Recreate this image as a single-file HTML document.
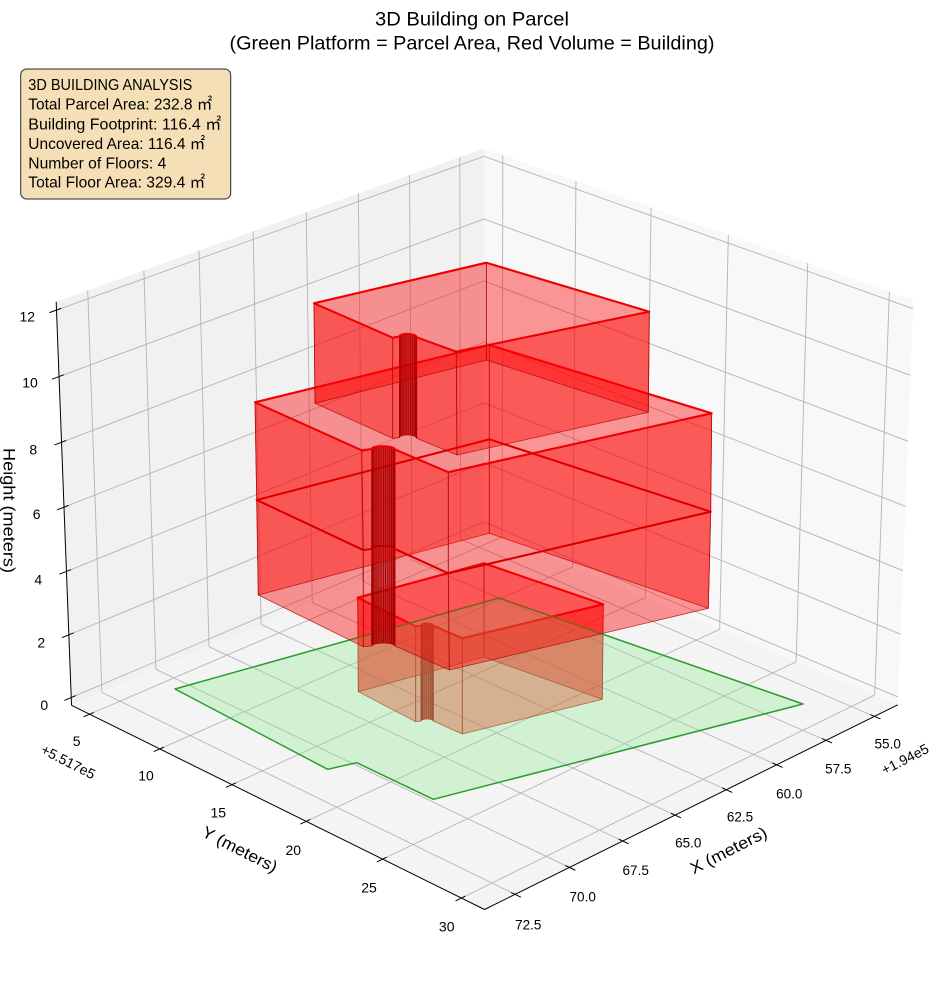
<!DOCTYPE html>
<html>
<head>
<meta charset="utf-8">
<style>
html,body{margin:0;padding:0;background:#fff;}
svg{display:block;}
text{font-family:"Liberation Sans","Noto Sans CJK JP",sans-serif;fill:#000;}
</style>
</head>
<body>
<svg id="s" width="944" height="992" viewBox="0 0 944 992" xmlns="http://www.w3.org/2000/svg">
<rect x="0" y="0" width="944" height="992" fill="#ffffff"/>
<g id="panes"></g>
<g id="grid" stroke="#b4b4b4" stroke-width="0.9" fill="none"></g>
<g id="axes" stroke="#000" stroke-width="1" fill="none" stroke-linecap="butt"></g>
<g id="b1"></g>
<g id="parcel">
<polygon points="175,689 499,598 803,704 433.3,799.3 356.7,762.7 327.7,769.3" fill="#90ee90" fill-opacity="0.33" stroke="#2a9d2a" stroke-width="1.5" stroke-linejoin="round"/>
</g>
<g id="b2"></g>

<!-- Title -->
<text x="472" y="25.5" font-size="19.5" text-anchor="middle" textLength="194" lengthAdjust="spacingAndGlyphs">3D Building on Parcel</text>
<text x="472" y="49.5" font-size="19.5" text-anchor="middle" textLength="485" lengthAdjust="spacingAndGlyphs">(Green Platform = Parcel Area, Red Volume = Building)</text>

<!-- Info box -->
<rect x="20.7" y="69" width="210" height="130" rx="6" ry="6" fill="#f5dfb6" stroke="#2a2a2a" stroke-width="1"/>
<g font-size="16">
<text x="28.3" y="90" textLength="164" lengthAdjust="spacingAndGlyphs">3D BUILDING ANALYSIS</text>
<text x="28.3" y="109.7" textLength="184" lengthAdjust="spacingAndGlyphs">Total Parcel Area: 232.8 ㎡</text>
<text x="28.3" y="129.3" textLength="193" lengthAdjust="spacingAndGlyphs">Building Footprint: 116.4 ㎡</text>
<text x="28.3" y="149" textLength="177" lengthAdjust="spacingAndGlyphs">Uncovered Area: 116.4 ㎡</text>
<text x="28.3" y="168.3" textLength="138" lengthAdjust="spacingAndGlyphs">Number of Floors: 4</text>
<text x="28.3" y="187.7" textLength="177" lengthAdjust="spacingAndGlyphs">Total Floor Area: 329.4 ㎡</text>
</g>

<!-- Z tick labels -->
<g font-size="14" text-anchor="middle">
<text x="27.3" y="321.7">12</text>
<text x="30" y="387.7">10</text>
<text x="33.3" y="454.3">8</text>
<text x="36.7" y="519">6</text>
<text x="38.3" y="584.3">4</text>
<text x="41.3" y="647.7">2</text>
<text x="44.3" y="710">0</text>
</g>
<!-- Y tick labels -->
<g font-size="14" text-anchor="middle">
<text x="76.7" y="746">5</text>
<text x="146" y="780.7">10</text>
<text x="218.3" y="817.7">15</text>
<text x="293.3" y="855">20</text>
<text x="369" y="892.7">25</text>
<text x="446.7" y="931.7">30</text>
</g>
<!-- X tick labels -->
<g font-size="13.5" text-anchor="middle">
<text x="528.3" y="929.3">72.5</text>
<text x="582.7" y="901.7">70.0</text>
<text x="635.7" y="875">67.5</text>
<text x="688.3" y="847.7">65.0</text>
<text x="740" y="821.7">62.5</text>
<text x="789.3" y="798.3">60.0</text>
<text x="838.3" y="773.3">57.5</text>
<text x="887.7" y="748.3">55.0</text>
</g>
<!-- Offsets and axis labels -->
<text font-size="14" text-anchor="middle" transform="translate(68.3,761.7) rotate(27)" y="5">+5.517e5</text>
<text font-size="14" text-anchor="middle" transform="translate(905,759) rotate(-27)" y="5">+1.94e5</text>
<text font-size="16.5" text-anchor="middle" transform="translate(240,849) rotate(27)" y="6" textLength="82" lengthAdjust="spacingAndGlyphs">Y (meters)</text>
<text font-size="16.5" text-anchor="middle" transform="translate(728.3,850) rotate(-27)" y="6" textLength="84" lengthAdjust="spacingAndGlyphs">X (meters)</text>
<text font-size="16.5" text-anchor="middle" transform="translate(3.5,510.5) rotate(90)" textLength="125" lengthAdjust="spacingAndGlyphs">Height (meters)</text>
</svg>

<script>
(function(){
var NS="http://www.w3.org/2000/svg";
function el(par,tag,at){var e=document.createElementNS(NS,tag);for(var k in at)e.setAttribute(k,at[k]);par.appendChild(e);return e;}
function pstr(a){return a.map(function(q){return q[0].toFixed(2)+','+q[1].toFixed(2);}).join(' ');}
function solve(A,b){
  var n=A.length,i,r,c;
  for(i=0;i<n;i++){
    var p=i;for(r=i+1;r<n;r++)if(Math.abs(A[r][i])>Math.abs(A[p][i]))p=r;
    var t=A[i];A[i]=A[p];A[p]=t;var tb=b[i];b[i]=b[p];b[p]=tb;
    for(r=i+1;r<n;r++){var f=A[r][i]/A[i][i];for(c=i;c<n;c++)A[r][c]-=f*A[i][c];b[r]-=f*b[i];}
  }
  var x=new Array(n).fill(0);
  for(i=n-1;i>=0;i--){var s=b[i];for(c=i+1;c<n;c++)s-=A[i][c]*x[c];x[i]=s/A[i][i];}
  return x;
}
var wz=function(z){return (z+0.25)/12.5;};
var pts=[];
[[1,0,0,71.5,705],[1,1,0,484.5,909.5],[0,1,0,897.8,704.8],[1,0,1,56.2,301.7],[0,1,1,913.3,300],[0,0,1,484,148.3]].forEach(function(p){pts.push([p[0],p[1],p[2],p[3],p[4],4]);});
[[0,698.3],[2,635],[4,572],[6,507],[8,443],[10,376],[12,310]].forEach(function(a){var y=a[1];var x=71.5-(71.5-56.2)*(705-y)/(705-301.7);pts.push([1,0,wz(a[0]),x,y,1]);});
pts.push([0,0,wz(12),484,156.7,2]);
pts.push([0,1,wz(12),913.1,309.3,2]);
var cx=480,cy=500,sc=500;
var N=[],c=[],i,j;
for(i=0;i<11;i++){N.push(new Array(11).fill(0));c.push(0);}
pts.forEach(function(q){
  var X=q[0],Y=q[1],Z=q[2],w=q[5];
  var x=(q[3]-cx)/sc,y=(q[4]-cy)/sc;
  var r1=[X,Y,Z,1,0,0,0,0,-x*X,-x*Y,-x*Z],r2=[0,0,0,0,X,Y,Z,1,-y*X,-y*Y,-y*Z];
  [[r1,x],[r2,y]].forEach(function(rb){var r=rb[0],b=rb[1];for(var i=0;i<11;i++){c[i]+=w*r[i]*b;for(var j=0;j<11;j++)N[i][j]+=w*r[i]*r[j];}});
});
var p=solve(N,c);
function P(X,Y,Z){var d=p[8]*X+p[9]*Y+p[10]*Z+1;return [cx+sc*(p[0]*X+p[1]*Y+p[2]*Z+p[3])/d, cy+sc*(p[4]*X+p[5]*Y+p[6]*Z+p[7])/d];}
function findParam(f,px,py){var best=0,bd=1e18;for(var i=0;i<=2000;i++){var t=i/2000;var q=f(t);var d=(q[0]-px)*(q[0]-px)+(q[1]-py)*(q[1]-py);if(d<bd){bd=d;best=t;}}return best;}
function linfit(xs,ys){var n=xs.length,mx=0,my=0,k;for(k=0;k<n;k++){mx+=xs[k];my+=ys[k];}mx/=n;my/=n;var sxy=0,sxx=0;for(k=0;k<n;k++){sxy+=(xs[k]-mx)*(ys[k]-my);sxx+=(xs[k]-mx)*(xs[k]-mx);}var a=sxy/sxx;return [a,my-a*mx];}
var xt=[[72.5,516.7,897.3],[70,570,870],[67.5,623.3,843.3],[65,676.7,817.7],[62.5,728.3,791.7],[60,778.3,766.7],[57.5,827.3,742.7],[55,875,719]];
var us=xt.map(function(a){return findParam(function(t){return P(t,1,0);},a[1],a[2]);});
var fx=linfit(xt.map(function(a){return a[0];}),us);
var U=function(X){return fx[0]*X+fx[1];};
var yt=[[5,88.3,715.7],[10,160,750.7],[15,230,787.3],[20,305,824],[25,381.7,861.7],[30,460,900]];
var vs=yt.map(function(a){return findParam(function(t){return P(1,t,0);},a[1],a[2]);});
var fy=linfit(yt.map(function(a){return a[0];}),vs);
var V=function(Y){return fy[0]*Y+fy[1];};

var panes=document.getElementById('panes');
el(panes,'polygon',{points:pstr([P(1,0,0),P(0,0,0),P(0,0,1),P(1,0,1)]),fill:'#f1f1f1'});
el(panes,'polygon',{points:pstr([P(0,1,0),P(0,0,0),P(0,0,1),P(0,1,1)]),fill:'#f8f8f8'});
el(panes,'polygon',{points:pstr([P(1,0,0),P(1,1,0),P(0,1,0),P(0,0,0)]),fill:'#f4f4f4'});

var grid=document.getElementById('grid');
function ln(g,a,b,extra){var at={x1:a[0].toFixed(2),y1:a[1].toFixed(2),x2:b[0].toFixed(2),y2:b[1].toFixed(2)};if(extra)for(var k in extra)at[k]=extra[k];return el(g,'line',at);}
var xticks=[55,57.5,60,62.5,65,67.5,70,72.5],yticks=[5,10,15,20,25,30],zticks=[0,2,4,6,8,10,12];
xticks.forEach(function(x){var u=U(x);ln(grid,P(u,0,0),P(u,1,0));ln(grid,P(u,0,0),P(u,0,1));});
yticks.forEach(function(y){var v=V(y);ln(grid,P(0,v,0),P(1,v,0));ln(grid,P(0,v,0),P(0,v,1));});
zticks.forEach(function(z){var w=wz(z);ln(grid,P(0,0,w),P(1,0,w));ln(grid,P(0,0,w),P(0,1,w));});

var axes=document.getElementById('axes');
ln(axes,P(1,0,0),P(1,0,1));
ln(axes,P(1,0,0),P(1,1,0));
ln(axes,P(1,1,0),P(0,1,0));
function tick(q,r,o,inn){var dx=r[0]-q[0],dy=r[1]-q[1],L=Math.sqrt(dx*dx+dy*dy);dx/=L;dy/=L;ln(axes,[q[0]-o*dx,q[1]-o*dy],[q[0]+inn*dx,q[1]+inn*dy]);}
xticks.forEach(function(x){var u=U(x);tick(P(u,1,0),P(u,0.9,0),6.5,4.5);});
yticks.forEach(function(y){var v=V(y);tick(P(1,v,0),P(0.9,v,0),6.5,4.5);});
zticks.forEach(function(z){var w=wz(z);tick(P(1,0,w),P(0.9,0,w),7.5,5);});

function arcPts(A2,B,bulge,n){var r=[];for(var i=1;i<n;i++){var th=Math.PI*i/n;var s=(1-Math.cos(th))/2;r.push([A2[0]+(B[0]-A2[0])*s,A2[1]+(B[1]-A2[1])*s-bulge*Math.sin(th)]);}return r;}
function expand(a,n,bulge){return [a[0],a[1],a[2]].concat(arcPts(a[2],a[3],bulge,n)).concat([a[3],a[4],a[5],a[6]]);}
function floor(g,F){
  var T=expand(F.top,F.n,F.bulge),B=expand(F.bot,F.n,F.bulge),len=T.length;
  for(var i=0;i<len;i++){var j=(i+1)%len;
    var isArc=(i>=2 && i<2+F.n);
    el(g,'polygon',{points:pstr([T[i],T[j],B[j],B[i]]),fill:'#ff0000','fill-opacity':'0.4',stroke:isArc?'#8a0000':'#a80000','stroke-opacity':isArc?'0.85':'0.75','stroke-width':'0.8','stroke-linejoin':'round'});
  }
  // dark strip for the curved notch surface
  var topArc=T.slice(2,3+F.n), botArc=B.slice(2,3+F.n).reverse();
  el(g,'polygon',{points:pstr(topArc.concat(botArc)),fill:'#b00000','fill-opacity':'0.55',stroke:'none'});
  el(g,'polygon',{points:pstr(T),fill:'none',stroke:'#ee0000','stroke-width':'2.1','stroke-linejoin':'round'});
}
var F4={top:[[314,303.3],[392.7,337.7],[399.5,336.5],[416.7,337.3],[456.3,351.7],[649.3,311.7],[486.3,262.7]],
 bot:[[315,403.3],[392.7,438.3],[399.5,437.5],[416.7,438.3],[457,455],[648.3,412.3],[486.3,360]],n:12,bulge:3};
var F3={top:[[255,402.3],[361.7,450.3],[371.7,449],[395,449.5],[448.3,472.2],[711.7,413.3],[489.3,345]],
 bot:[[256.7,500],[363.3,550],[371.7,549],[395,549],[448.3,573.3],[710.7,511.7],[489.3,439.3]],n:16,bulge:3};
var F2={top:F3.bot,bot:[[258.3,595],[363.3,646.7],[371.7,646],[395,646],[449.3,670],[708.3,608.3],[489.3,533.3]],n:16,bulge:3};
var F1={top:[[357.7,597.7],[415.7,626.3],[421,625.5],[433.3,625.7],[462.3,638.3],[603.3,604.3],[484,563.3]],
 bot:[[358.3,691.7],[415.7,721.7],[421,721],[433.3,721],[462.3,734],[602.3,699.3],[484,657]],n:9,bulge:2};
floor(document.getElementById('b1'),F1);
var b2=document.getElementById('b2');
floor(b2,F2);floor(b2,F3);floor(b2,F4);
})();
</script>
</body>
</html>
